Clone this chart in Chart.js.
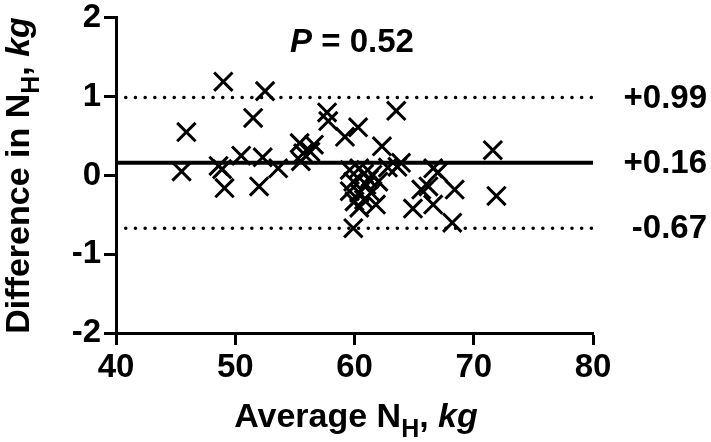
<!DOCTYPE html>
<html>
<head>
<meta charset="utf-8">
<script src="https://cdn.jsdelivr.net/npm/chart.js@4.4.1/dist/chart.umd.min.js"></script>
<style>
  html, body { margin: 0; padding: 0; background: #fff; }
  #wrap { width: 711px; height: 442px; position: relative; }
</style>
</head>
<body>
<div id="wrap"><canvas id="bland_altman"></canvas></div>
<script>
// average of the two methods (x) and their difference (y), kg
var avgNH = [45.5, 45.9, 48.6, 48.9, 49.0, 49.1, 50.5, 51.5, 52.0, 52.3,
             52.5, 53.6, 55.4, 55.5, 55.7, 56.3, 56.6, 57.7, 57.8, 59.2,
             60.3, 62.3, 63.5, 63.6, 63.9, 59.6, 60.4, 61.5, 59.9, 61.0,
             62.0, 59.6, 60.4, 61.4, 60.0, 60.8, 61.8, 60.4, 59.9, 64.9,
             65.6, 66.2, 66.6, 67.0, 66.6, 68.4, 68.2, 71.6, 71.9, 60.8,
             61.2, 62.8];
var diffNH = [0.05, 0.55, 0.12, 0.08, 1.19, -0.16, 0.25, 0.73, -0.14, 0.23,
              1.07, 0.09, 0.41, 0.18, 0.28, 0.30, 0.39, 0.80, 0.69, 0.49,
              0.61, 0.37, 0.82, 0.11, 0.16, 0.07, 0.09, 0.01, -0.08, -0.12,
              -0.08, -0.20, -0.22, -0.22, -0.33, -0.31, -0.37, -0.41, -0.67, -0.42,
              -0.18, -0.14, 0.09, 0.04, -0.37, -0.18, -0.60, 0.32, -0.26, 0.02,
              -0.05, 0.10];

var meanDiff = 0.16;
var limits = [0.99, -0.67];
var pValue = "0.52";

var xTicks = [40, 50, 60, 70, 80];
var yTicks = [-2, -1, 0, 1, 2];

var FONT = "'Liberation Sans', Arial, Helvetica, sans-serif";

var points = avgNH.map(function (x, i) { return { x: x, y: diffNH[i] }; });

function hLine(y) {
    return [{ x: xTicks[0], y: y }, { x: xTicks[xTicks.length - 1], y: y }];
}

function fmt(v) {
    return (v > 0 ? "+" : "") + v.toFixed(2);
}

// draw a row of text pieces with different fonts / baseline shifts
function drawRuns(ctx, runs, cx, baseY) {
    var total = 0;
    runs.forEach(function (r) { ctx.font = r.font; r.w = ctx.measureText(r.text).width; total += r.w; });
    var x = cx - total / 2;
    ctx.textAlign = "left";
    ctx.textBaseline = "alphabetic";
    runs.forEach(function (r) {
        ctx.font = r.font;
        ctx.fillText(r.text, x, baseY + (r.dy || 0));
        x += r.w;
    });
}

var annotations = {
    id: "annotations",
    afterDraw: function (chart) {
        var ctx = chart.ctx;
        var ys = chart.scales.y;
        var area = chart.chartArea;
        ctx.save();
        ctx.fillStyle = "#000";

        // labels for mean and limits on the right
        ctx.font = "bold 33px " + FONT;
        ctx.textAlign = "right";
        ctx.textBaseline = "middle";
        [limits[0], meanDiff, limits[1]].forEach(function (v) {
            ctx.fillText(fmt(v), 707, ys.getPixelForValue(v) + 1);
        });

        // P value
        drawRuns(ctx, [
            { text: "P", font: "italic bold 33px " + FONT },
            { text: " = " + pValue, font: "bold 33px " + FONT }
        ], 352, 52);

        // x title
        drawRuns(ctx, [
            { text: "Average N", font: "bold 34px " + FONT },
            { text: "H", font: "bold 25px " + FONT, dy: 10 },
            { text: ", ", font: "bold 34px " + FONT },
            { text: "kg", font: "italic bold 34px " + FONT }
        ], 356, 427);

        // y title
        ctx.translate(29, (area.top + area.bottom) / 2);
        ctx.rotate(-Math.PI / 2);
        drawRuns(ctx, [
            { text: "Difference in N", font: "bold 34px " + FONT },
            { text: "H", font: "bold 25px " + FONT, dy: 10 },
            { text: ", ", font: "bold 34px " + FONT },
            { text: "kg", font: "italic bold 34px " + FONT }
        ], 0, 0);
        ctx.restore();
    }
};

var axisGrid = {
    drawOnChartArea: false,
    drawTicks: true,
    tickLength: 12,
    tickWidth: 3,
    color: "#000"
};

var chart = new Chart(document.getElementById("bland_altman"), {
    type: "scatter",
    data: {
        datasets: [
            {
                label: "Differences",
                data: points,
                pointStyle: "crossRot",
                pointRadius: 13,
                pointBorderWidth: 3,
                borderColor: "#000",
                backgroundColor: "#000",
                order: 0
            },
            {
                type: "line",
                label: "Mean",
                data: hLine(meanDiff),
                borderColor: "#000",
                borderWidth: 4,
                pointRadius: 0,
                order: 1
            },
            {
                type: "line",
                label: "Upper limit",
                data: hLine(limits[0]),
                borderColor: "#000",
                borderWidth: 3.5,
                borderCapStyle: "round",
                borderDash: [0.1, 9.6],
                pointRadius: 0,
                order: 1
            },
            {
                type: "line",
                label: "Lower limit",
                data: hLine(limits[1]),
                borderColor: "#000",
                borderWidth: 3.5,
                borderCapStyle: "round",
                borderDash: [0.1, 9.6],
                pointRadius: 0,
                order: 1
            }
        ]
    },
    options: {
        responsive: true,
        maintainAspectRatio: false,
        animation: false,
        layout: { padding: { left: 0, top: 15, right: 118, bottom: 0 } },
        plugins: {
            legend: { display: false },
            tooltip: { enabled: false }
        },
        scales: {
            x: {
                type: "linear",
                min: 40,
                max: 80,
                afterBuildTicks: function (s) { s.ticks = xTicks.map(function (v) { return { value: v }; }); },
                afterFit: function (s) { s.height = 109; },
                grid: axisGrid,
                border: { color: "#000", width: 3 },
                ticks: {
                    color: "#000",
                    padding: 3,
                    font: { family: FONT, size: 33, weight: "bold" }
                }
            },
            y: {
                type: "linear",
                min: -2,
                max: 2,
                afterBuildTicks: function (s) { s.ticks = yTicks.map(function (v) { return { value: v }; }); },
                afterFit: function (s) { s.width = 116; },
                grid: axisGrid,
                border: { color: "#000", width: 3 },
                ticks: {
                    color: "#000",
                    padding: 3,
                    font: { family: FONT, size: 33, weight: "bold", lineHeight: 0.9 }
                }
            }
        }
    },
    plugins: [annotations]
});
</script>
</body>
</html>
